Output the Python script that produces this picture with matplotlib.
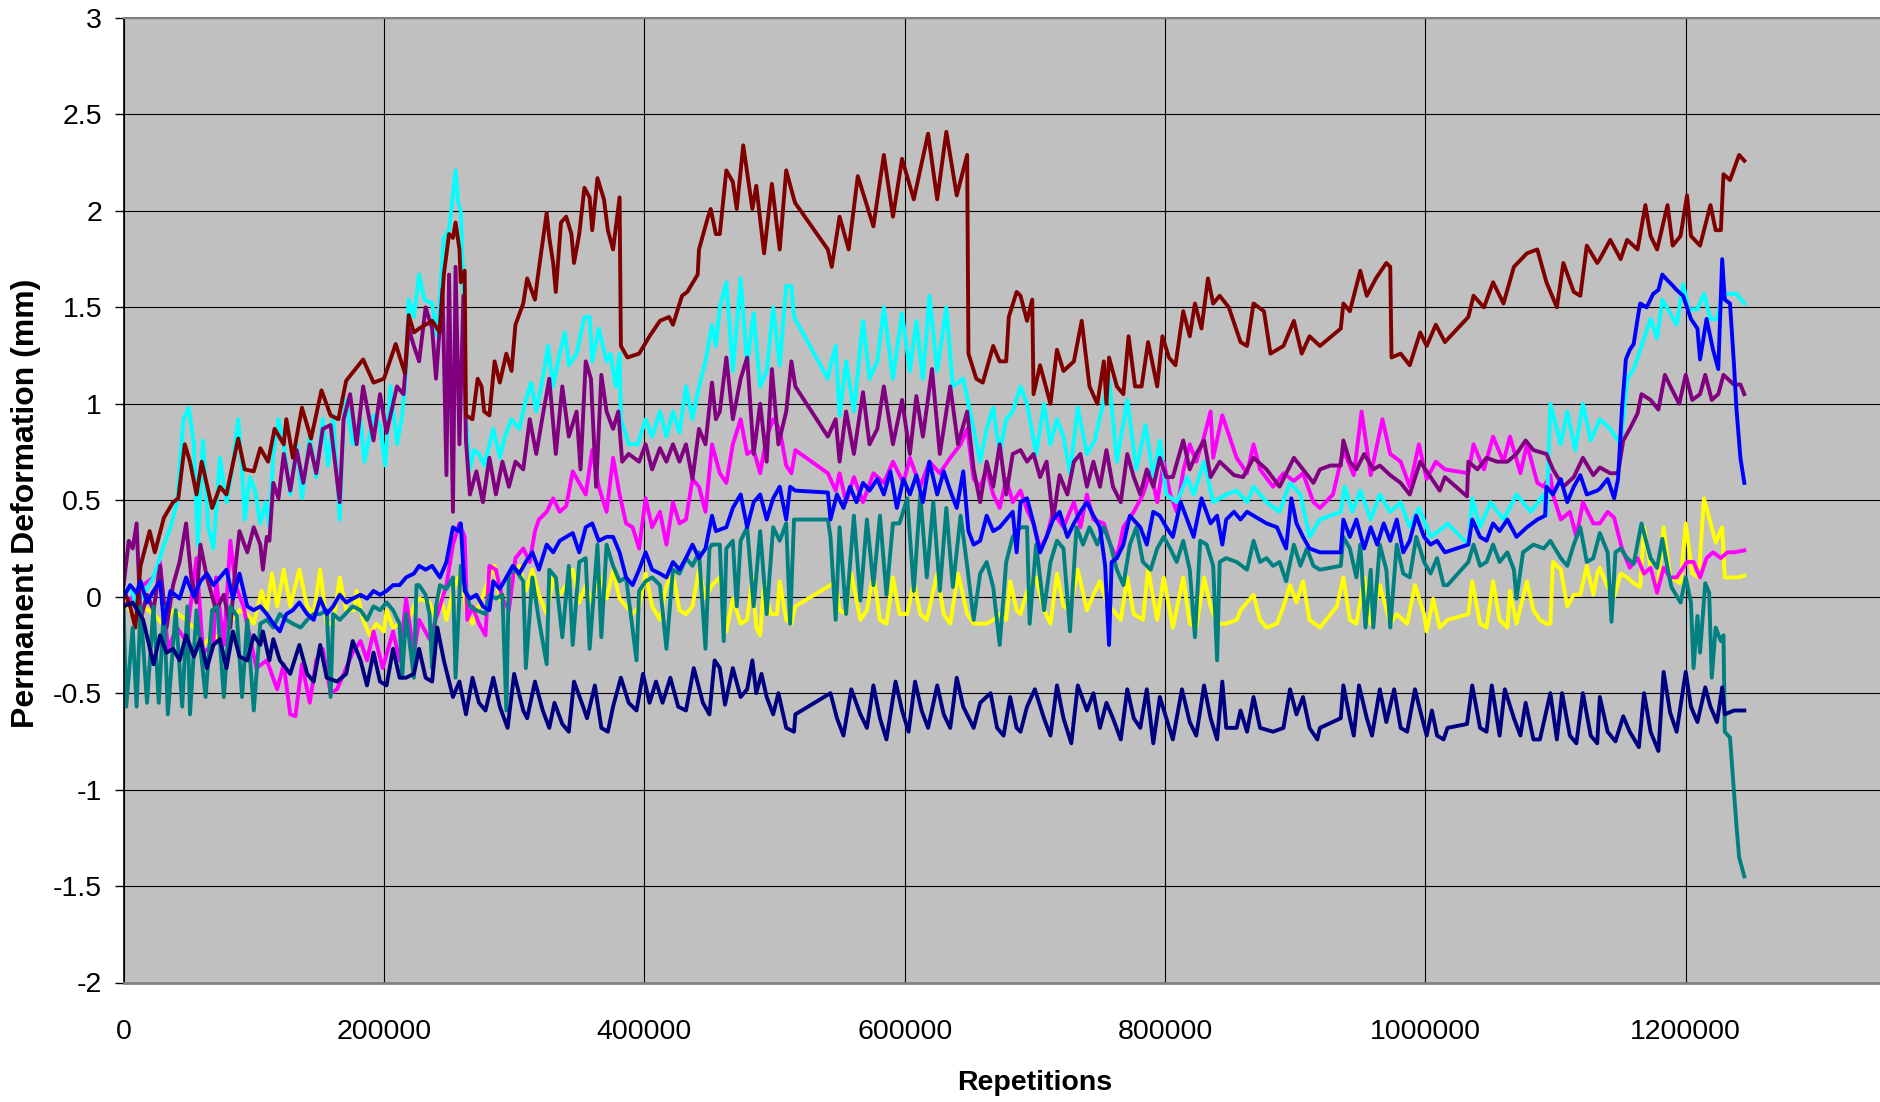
import numpy as np
import matplotlib
matplotlib.use('Agg')
import matplotlib.pyplot as plt

# (repetitions in thousands, permanent deformation in mm)
maroon = [
    (1, 0.02), (5, -0.05), (9, -0.16), (13, 0.16), (20, 0.34), (24, 0.23), (31, 0.41), (38, 0.49), (42, 0.51),
    (47, 0.79), (51, 0.70), (56, 0.53), (60, 0.70), (68, 0.46), (74, 0.57), (79, 0.53), (88, 0.82), (93, 0.66),
    (100, 0.65), (105, 0.77), (111, 0.70), (116, 0.87), (123, 0.79), (125, 0.92), (130, 0.72), (137, 0.98),
    (144, 0.82), (152, 1.07), (159, 0.94), (165, 0.92), (171, 1.12), (184, 1.23), (192, 1.11), (200, 1.13),
    (209, 1.31), (216, 1.16), (219, 1.46), (223, 1.37),
    (227, 1.39), (237, 1.43), (243, 1.37), (246, 1.67), (250, 1.88), (253, 1.86), (255, 1.94), (258, 1.80),
    (259, 1.63), (262, 1.69), (263, 0.94), (268, 0.92), (272, 1.13), (275, 1.09), (277, 0.96), (281, 0.94),
    (285, 1.22), (289, 1.11), (294, 1.26), (298, 1.17), (301, 1.41), (307, 1.52), (310, 1.65), (316, 1.54),
    (318, 1.65), (325, 1.99), (327, 1.86), (330, 1.73), (332, 1.58), (336, 1.94), (340, 1.97), (344, 1.88),
    (346, 1.73), (350, 1.88), (354, 2.12), (358, 2.07), (360, 1.90), (364, 2.17), (369, 2.06), (372, 1.90),
    (376, 1.80), (381, 2.07), (382, 1.30), (387, 1.24), (396, 1.26), (404, 1.35), (412, 1.43), (419, 1.45),
    (422, 1.41), (429, 1.56), (433, 1.58), (441, 1.67), (442, 1.80), (449, 1.97), (451, 2.01), (455, 1.88),
    (458, 1.88), (463, 2.21), (468, 2.15), (471, 2.01), (476, 2.34), (483, 2.01), (486, 2.13), (492, 1.78),
    (498, 2.14), (504, 1.80), (509, 2.21), (515, 2.06), (516, 2.04), (541, 1.80), (544, 1.71), (550, 1.97),
    (557, 1.80), (564, 2.18), (576, 1.92), (584, 2.29), (591, 1.97), (598, 2.27), (607, 2.06), (618, 2.40),
    (625, 2.06), (632, 2.41), (640, 2.08), (648, 2.29), (649, 1.26), (655, 1.13), (660, 1.11), (668, 1.30),
    (673, 1.22), (678, 1.22), (680, 1.45), (686, 1.58),
    (689, 1.56), (694, 1.43), (698, 1.54), (699, 1.05), (704, 1.20), (712, 1.00), (717, 1.28), (722, 1.17),
    (730, 1.22), (736, 1.43), (742, 1.09), (748, 1.00), (753, 1.22), (755, 1.00), (757, 1.24), (763, 1.09),
    (768, 1.05), (772, 1.35), (777, 1.09), (782, 1.09), (787, 1.32), (794, 1.09), (798, 1.35), (803, 1.24),
    (808, 1.20), (814, 1.48), (819, 1.35), (823, 1.52), (828, 1.39), (833, 1.65), (837, 1.52), (842, 1.56),
    (849, 1.50), (858, 1.32), (863, 1.30), (868, 1.52), (876, 1.48), (881, 1.26), (891, 1.30), (899, 1.43),
    (905, 1.26), (911, 1.35),
    (919, 1.30), (935, 1.39), (937, 1.52), (942, 1.48), (950, 1.69), (955, 1.56), (962, 1.65), (970, 1.73),
    (973, 1.71), (974, 1.24), (981, 1.26), (988, 1.20), (996, 1.37), (1001, 1.30), (1008, 1.41), (1015, 1.32),
    (1033, 1.45), (1037, 1.56), (1045, 1.50), (1052, 1.63), (1060, 1.52), (1068, 1.71), (1078, 1.78),
    (1086, 1.80), (1093, 1.63), (1101, 1.50), (1106, 1.73), (1114, 1.58), (1119, 1.56), (1124, 1.82),
    (1132, 1.73), (1134, 1.75), (1142, 1.85), (1150, 1.75), (1155, 1.85), (1163, 1.80), (1169, 2.03),
    (1173, 1.87), (1178, 1.80), (1186, 2.03), (1190, 1.82), (1196, 1.87), (1201, 2.08), (1204, 1.87),
    (1211, 1.82), (1219, 2.03), (1223, 1.90), (1227, 1.90), (1229, 2.19), (1234, 2.16), (1241, 2.29),
    (1245, 2.26)]

cyan = [
    (0, 0.00), (5, 0.06), (10, -0.05), (15, 0.01), (23, 0.10), (31, 0.27), (36, 0.36), (41, 0.49), (46, 0.92),
    (50, 0.98), (54, 0.79), (57, 0.27), (61, 0.81), (65, 0.36), (69, 0.25), (74, 0.72), (79, 0.49), (83, 0.64),
    (88, 0.92), (91, 0.66), (93, 0.40), (97, 0.62), (101, 0.55), (105, 0.38), (109, 0.49), (112, 0.36),
    (115, 0.74), (119, 0.92), (123, 0.79), (128, 0.53), (133, 0.79), (137, 0.51), (143, 0.83), (148, 0.62),
    (153, 0.92), (157, 0.68), (161, 0.94), (166, 0.40), (169, 0.92), (171, 1.02), (176, 0.79), (182, 0.92),
    (185, 0.70), (192, 0.94), (197, 0.89), (201, 0.68), (205, 1.09), (210, 0.79), (214, 0.94), (217, 1.17),
    (219, 1.54), (223, 1.45),
    (227, 1.67), (231, 1.54), (237, 1.52), (241, 1.35), (246, 1.86), (250, 1.90), (255, 2.21), (257, 2.04),
    (259, 2.00), (261, 1.60), (263, 0.92), (266, 0.66), (269, 0.76), (273, 0.74), (277, 0.68), (284, 0.87),
    (289, 0.72), (293, 0.83), (298, 0.92), (304, 0.87), (309, 1.02), (313, 1.11), (317, 0.96), (323, 1.17),
    (326, 1.30), (330, 1.09), (335, 1.26), (339, 1.37), (342, 1.20), (348, 1.26), (354, 1.45), (358, 1.45),
    (360, 1.22), (365, 1.39), (371, 1.22), (374, 1.26), (378, 1.09), (381, 1.26), (382, 0.92), (388, 0.79),
    (395, 0.79), (401, 0.92), (406, 0.83), (412, 0.96), (417, 0.83), (422, 0.96), (427, 0.85), (432, 1.09),
    (437, 0.92), (442, 1.09), (447, 1.22), (452, 1.41), (455, 1.30),
    (458, 1.50), (463, 1.63), (468, 1.17), (474, 1.65), (479, 1.20), (484, 1.47), (489, 1.09), (494, 1.17),
    (499, 1.50), (504, 1.20), (509, 1.61), (513, 1.61), (515, 1.45), (541, 1.13), (543, 1.20), (547, 1.30),
    (550, 0.94), (555, 1.22), (561, 0.96), (568, 1.43), (573, 1.13), (579, 1.22), (584, 1.50), (591, 1.13),
    (598, 1.47), (604, 1.17), (609, 1.43), (614, 1.13), (619, 1.56), (625, 1.17), (632, 1.50), (637, 1.09),
    (645, 1.13), (653, 0.87), (658, 0.70), (663, 0.87), (668, 0.98), (673, 0.74), (678, 0.92), (683, 0.96),
    (689, 1.09),
    (694, 1.00), (701, 0.74), (707, 1.00), (712, 0.79), (717, 0.92), (722, 0.83), (727, 0.64), (733, 0.98),
    (740, 0.74), (746, 0.81), (751, 0.96), (757, 1.13), (763, 0.70), (771, 1.02), (778, 0.66), (785, 0.89),
    (791, 0.62), (796, 0.81), (801, 0.53), (809, 0.49), (817, 0.62), (822, 0.53), (830, 0.70), (837, 0.49),
    (847, 0.53), (855, 0.55), (863, 0.49), (868, 0.57), (878, 0.49), (888, 0.44), (896, 0.59), (904, 0.53),
    (911, 0.31), (919, 0.40),
    (935, 0.44), (938, 0.57), (944, 0.44), (950, 0.55), (958, 0.40), (965, 0.53), (973, 0.44), (981, 0.49),
    (988, 0.36), (995, 0.46), (1004, 0.31), (1014, 0.36), (1017, 0.38), (1033, 0.27), (1036, 0.51),
    (1042, 0.36), (1050, 0.49), (1060, 0.40), (1070, 0.53), (1081, 0.44), (1091, 0.53), (1093, 0.42),
    (1096, 1.00), (1104, 0.79), (1109, 0.96), (1115, 0.76), (1121, 1.00), (1127, 0.81),
    (1134, 0.92), (1142, 0.87), (1150, 0.79), (1155, 1.13), (1160, 1.18), (1168, 1.34), (1173, 1.44),
    (1178, 1.34), (1182, 1.54), (1188, 1.47), (1193, 1.41), (1198, 1.62), (1202, 1.49), (1209, 1.49),
    (1214, 1.57), (1219, 1.44), (1224, 1.44), (1228, 1.57), (1232, 1.57), (1239, 1.57), (1245, 1.52)]

purple = [
    (0, 0.06), (4, 0.29), (7, 0.25), (10, 0.38), (13, -0.12), (18, 0.01), (23, -0.07), (28, 0.16), (33, -0.16),
    (38, 0.06), (43, 0.18), (48, 0.38), (52, 0.10), (56, -0.03), (59, 0.27), (64, 0.10), (71, -0.07),
    (77, 0.01), (82, -0.16), (86, 0.16), (89, 0.34), (95, 0.23), (100, 0.36), (105, 0.27), (107, 0.14),
    (110, 0.31), (112, 0.29), (115, 0.59), (119, 0.51), (123, 0.74), (128, 0.55), (133, 0.76), (138, 0.59),
    (143, 0.79), (148, 0.64), (153, 0.87), (159, 0.89), (166, 0.49), (169, 0.92), (174, 1.05), (179, 0.79),
    (184, 1.09), (192, 0.81), (197, 1.05), (202, 0.85), (210, 1.09), (215, 1.05), (219, 1.39), (223, 1.30),
    (227, 1.22), (232, 1.50), (237, 1.39), (240, 1.13), (243, 1.41), (245, 1.60), (248, 0.63), (250, 1.67),
    (253, 0.44), (255, 1.71), (258, 0.79), (261, 1.56), (263, 0.81), (266, 0.53), (271, 0.65), (276, 0.49),
    (281, 0.72), (286, 0.53), (291, 0.70), (296, 0.57), (301, 0.70), (307, 0.66), (312, 0.92), (317, 0.74),
    (322, 0.94), (327, 1.13), (332, 0.74), (337, 1.09), (342, 0.83), (348, 0.96), (351, 0.66), (355, 1.22),
    (359, 1.13), (363, 0.57), (367, 1.15), (371, 0.96), (376, 0.87), (380, 0.96), (383, 0.70), (388, 0.74),
    (396, 0.70), (401, 0.79), (406, 0.66), (412, 0.77), (417, 0.70), (422, 0.79), (427, 0.70), (432, 0.79),
    (437, 0.61), (442, 0.87), (447, 0.79), (452, 1.11), (455, 0.92),
    (458, 0.96), (463, 1.24), (468, 0.92), (474, 1.13), (479, 1.24), (484, 0.74), (489, 1.00), (494, 0.70),
    (498, 1.18), (503, 0.79), (509, 0.96), (513, 1.22), (516, 1.09), (541, 0.83), (547, 0.92), (550, 0.70),
    (555, 0.96), (561, 0.74), (568, 1.06), (573, 0.79), (579, 0.87), (584, 1.09), (591, 0.79), (598, 1.02),
    (604, 0.74), (609, 1.04), (614, 0.83), (621, 1.18), (627, 0.74), (635, 1.09), (641, 0.79), (648, 0.96),
    (653, 0.66), (658, 0.49), (663, 0.70), (668, 0.57), (673, 0.79), (678, 0.53), (683, 0.74), (689, 0.76),
    (694, 0.70), (699, 0.74), (704, 0.62), (709, 0.70), (714, 0.40), (719, 0.63), (725, 0.53), (730, 0.70),
    (735, 0.74), (740, 0.57), (745, 0.70), (750, 0.57), (755, 0.76), (760, 0.57), (766, 0.49), (771, 0.74),
    (776, 0.62), (781, 0.53), (786, 0.66), (791, 0.57), (796, 0.72), (801, 0.62), (806, 0.62), (814, 0.81),
    (819, 0.66), (824, 0.74), (830, 0.81), (835, 0.62), (842, 0.70), (853, 0.63), (860, 0.62), (868, 0.72),
    (878, 0.66), (888, 0.57), (899, 0.72), (906, 0.66), (914, 0.59), (919, 0.66),
    (927, 0.68), (935, 0.68), (937, 0.81), (942, 0.70), (947, 0.66), (953, 0.74), (960, 0.66), (965, 0.68),
    (973, 0.63), (981, 0.59), (988, 0.53), (996, 0.70), (1004, 0.62), (1011, 0.55), (1015, 0.62),
    (1032, 0.52), (1033, 0.70), (1040, 0.66), (1047, 0.72), (1055, 0.70), (1063, 0.70), (1070, 0.74),
    (1077, 0.81), (1083, 0.76), (1093, 0.74), (1098, 0.66), (1106, 0.57), (1114, 0.62), (1121, 0.72),
    (1129, 0.63), (1134, 0.67), (1142, 0.64), (1148, 0.64), (1152, 0.81), (1157, 0.87), (1163, 0.95),
    (1166, 1.05), (1173, 1.02), (1179, 0.97), (1184, 1.15), (1189, 1.08), (1195, 1.00), (1200, 1.15),
    (1205, 1.02), (1211, 1.05), (1215, 1.15), (1220, 1.02), (1225, 1.05), (1229, 1.15), (1237, 1.10),
    (1242, 1.10), (1245, 1.05)]

magenta = [
    (0, -0.05), (15, 0.06), (23, 0.10), (28, 0.18), (34, -0.27), (41, -0.16), (48, -0.23), (56, 0.20),
    (61, -0.29), (69, -0.25), (71, 0.10), (77, -0.25), (82, 0.29), (86, 0.06), (92, -0.05), (102, -0.37),
    (110, -0.33), (118, -0.48), (123, -0.35), (128, -0.61), (132, -0.62), (137, -0.35), (143, -0.55),
    (148, -0.33), (153, -0.27), (159, -0.50), (164, -0.48), (176, -0.29), (182, -0.23), (187, -0.33),
    (192, -0.18), (199, -0.37), (207, -0.18), (212, -0.33), (217, -0.01), (223, -0.30),
    (227, -0.12), (235, -0.22), (243, -0.05), (248, 0.06), (253, 0.27), (258, 0.38), (262, 0.31),
    (264, -0.12), (268, -0.05), (273, -0.14), (278, -0.20), (281, 0.16), (286, 0.14), (291, -0.01),
    (296, -0.07), (301, 0.20), (307, 0.25), (312, 0.18), (316, 0.34), (319, 0.40), (325, 0.44), (330, 0.51),
    (335, 0.44), (340, 0.47), (345, 0.65), (350, 0.59), (355, 0.53), (360, 0.76), (365, 0.57), (371, 0.44),
    (376, 0.72), (381, 0.53), (386, 0.38), (391, 0.36), (396, 0.25), (401, 0.51), (406, 0.36), (412, 0.44),
    (417, 0.27), (422, 0.49), (427, 0.38), (432, 0.40), (437, 0.61), (442, 0.57), (447, 0.44), (452, 0.79),
    (458, 0.64), (463, 0.59), (468, 0.79), (474, 0.92), (479, 0.74), (484, 0.76), (489, 0.64), (494, 0.83),
    (499, 0.92), (504, 0.87), (509, 0.68), (513, 0.64), (516, 0.76), (541, 0.64), (547, 0.55), (550, 0.64),
    (555, 0.49), (561, 0.62), (568, 0.49), (576, 0.64), (584, 0.59), (591, 0.70), (599, 0.59), (604, 0.72),
    (612, 0.57), (619, 0.70), (627, 0.64), (635, 0.72), (643, 0.79), (648, 0.87), (653, 0.61), (658, 0.57),
    (663, 0.66), (668, 0.53), (673, 0.46), (678, 0.61), (683, 0.49), (689, 0.55),
    (694, 0.45), (699, 0.38), (704, 0.25), (709, 0.31), (714, 0.44), (722, 0.36), (730, 0.49), (735, 0.36),
    (740, 0.53), (745, 0.40), (753, 0.38), (758, 0.27), (763, 0.20), (768, 0.36), (776, 0.44), (783, 0.53),
    (789, 0.65), (794, 0.49), (799, 0.70), (804, 0.53), (809, 0.44), (814, 0.65), (819, 0.79), (824, 0.70),
    (830, 0.83), (835, 0.96), (837, 0.72), (844, 0.94), (855, 0.72), (863, 0.64), (868, 0.79), (873, 0.66),
    (883, 0.57), (891, 0.64), (899, 0.60), (906, 0.64), (914, 0.49), (919, 0.46),
    (929, 0.53), (937, 0.76), (945, 0.63), (951, 0.96), (958, 0.63), (967, 0.92), (973, 0.74), (981, 0.70),
    (988, 0.57), (995, 0.79), (1001, 0.61), (1008, 0.70), (1015, 0.66), (1033, 0.64), (1037, 0.79),
    (1045, 0.66), (1052, 0.83), (1060, 0.70), (1065, 0.83), (1073, 0.64), (1078, 0.79), (1086, 0.59),
    (1091, 0.57), (1096, 0.63), (1098, 0.53), (1104, 0.40), (1111, 0.44), (1116, 0.31), (1121, 0.49),
    (1129, 0.38), (1134, 0.38), (1140, 0.44), (1145, 0.41), (1151, 0.25), (1157, 0.15), (1163, 0.20),
    (1168, 0.12), (1173, 0.15), (1178, 0.02), (1183, 0.15), (1188, 0.10), (1193, 0.10), (1201, 0.18),
    (1206, 0.18), (1211, 0.10), (1216, 0.20), (1221, 0.23), (1227, 0.20), (1232, 0.23), (1237, 0.23),
    (1245, 0.24)]

blue = [
    (0, 0.00), (5, 0.06), (10, 0.02), (13, 0.08), (18, -0.03), (23, 0.03), (28, 0.08), (31, -0.14), (36, 0.03),
    (43, -0.01), (48, 0.10), (54, 0.00), (59, 0.08), (64, 0.12), (69, 0.06), (74, 0.10), (79, 0.14),
    (84, -0.01), (89, 0.12), (95, -0.05), (100, -0.07), (105, -0.05), (110, -0.09), (115, -0.14),
    (120, -0.18), (125, -0.09), (130, -0.07), (135, -0.03), (141, -0.09), (146, -0.12), (151, -0.01),
    (156, -0.09), (161, -0.05), (166, 0.01), (171, -0.03), (176, -0.01), (182, 0.01), (187, -0.01),
    (192, 0.03), (197, 0.01), (202, 0.03), (207, 0.06), (212, 0.06), (217, 0.10), (223, 0.12),
    (227, 0.16), (232, 0.14), (237, 0.16), (243, 0.10), (248, 0.18), (253, 0.36), (257, 0.34), (259, 0.38),
    (262, 0.03), (266, -0.01), (271, 0.01), (276, -0.05), (281, -0.07), (284, 0.08), (289, 0.04), (294, 0.10),
    (299, 0.16), (304, 0.12), (309, 0.18), (314, 0.23), (319, 0.14), (325, 0.27), (330, 0.23), (335, 0.29),
    (340, 0.31), (345, 0.33), (350, 0.23), (355, 0.36), (360, 0.38), (365, 0.29), (371, 0.31), (376, 0.31),
    (381, 0.23), (386, 0.10), (391, 0.06), (396, 0.14), (401, 0.23), (406, 0.14), (412, 0.12), (417, 0.10),
    (422, 0.18), (427, 0.14), (432, 0.20), (437, 0.27), (442, 0.20), (447, 0.25), (452, 0.42), (455, 0.34),
    (463, 0.36), (468, 0.46), (474, 0.53), (479, 0.36), (484, 0.49), (489, 0.53), (494, 0.40), (499, 0.51),
    (504, 0.57), (509, 0.40), (512, 0.57), (516, 0.55), (541, 0.54), (543, 0.40), (548, 0.53), (553, 0.46),
    (558, 0.57), (563, 0.49), (568, 0.59), (573, 0.55), (579, 0.61), (584, 0.53), (589, 0.65), (594, 0.46),
    (599, 0.61), (604, 0.53), (609, 0.63), (614, 0.49), (619, 0.70), (625, 0.53), (630, 0.65), (635, 0.55),
    (640, 0.46), (645, 0.65), (649, 0.34), (653, 0.27), (658, 0.29), (663, 0.42), (668, 0.34), (673, 0.36),
    (678, 0.40), (683, 0.44), (686, 0.23), (689, 0.49),
    (694, 0.51), (699, 0.38), (704, 0.23), (709, 0.31), (714, 0.40), (719, 0.44), (725, 0.31), (730, 0.38),
    (735, 0.44), (740, 0.49), (745, 0.42), (750, 0.36), (754, 0.16), (757, -0.25), (759, 0.18), (763, 0.20),
    (768, 0.27), (773, 0.42), (781, 0.36), (786, 0.27), (791, 0.44), (796, 0.42), (801, 0.36), (806, 0.31),
    (812, 0.49), (817, 0.40), (822, 0.31), (828, 0.51), (835, 0.38), (840, 0.42), (844, 0.27), (847, 0.40),
    (853, 0.44), (858, 0.40), (863, 0.44), (868, 0.42), (873, 0.40), (878, 0.38), (886, 0.36), (893, 0.25),
    (897, 0.51), (901, 0.38), (906, 0.31), (911, 0.25), (919, 0.23),
    (935, 0.23), (937, 0.40), (942, 0.31), (947, 0.40), (953, 0.25), (958, 0.36), (963, 0.27), (968, 0.38),
    (973, 0.29), (978, 0.40), (983, 0.23), (988, 0.29), (993, 0.42), (999, 0.31), (1004, 0.27), (1009, 0.29),
    (1015, 0.23), (1033, 0.27), (1036, 0.40), (1042, 0.31), (1047, 0.29), (1052, 0.38), (1057, 0.34),
    (1063, 0.40), (1070, 0.31), (1078, 0.36), (1086, 0.40), (1092, 0.42), (1093, 0.57), (1098, 0.53),
    (1104, 0.61), (1109, 0.49), (1114, 0.57), (1119, 0.63), (1124, 0.53), (1132, 0.55),
    (1134, 0.56), (1140, 0.61), (1145, 0.51), (1148, 0.61), (1151, 0.97), (1154, 1.23), (1157, 1.28),
    (1160, 1.31), (1163, 1.44), (1165, 1.52), (1170, 1.50), (1175, 1.57), (1179, 1.59), (1182, 1.67),
    (1186, 1.64), (1189, 1.62), (1193, 1.59), (1198, 1.56), (1204, 1.44), (1209, 1.39), (1211, 1.23),
    (1216, 1.44), (1221, 1.28), (1225, 1.18), (1228, 1.75), (1230, 1.54), (1234, 1.52), (1237, 1.21),
    (1239, 0.97), (1242, 0.72), (1245, 0.59)]

yellow = [
    (0, 0.00), (7, -0.10), (15, -0.05), (23, -0.09), (31, -0.15), (38, -0.07), (46, -0.11), (54, -0.16),
    (61, -0.25), (69, -0.20), (74, -0.22), (82, -0.13), (89, -0.07), (95, -0.09), (100, -0.14), (106, 0.03),
    (110, -0.07), (114, 0.12), (118, -0.05), (123, 0.14), (128, -0.05), (135, 0.14), (141, -0.05),
    (146, -0.09), (151, 0.14), (156, -0.14), (161, -0.14), (166, 0.10), (171, -0.07), (177, -0.07),
    (179, 0.03), (184, -0.12), (189, -0.20), (194, -0.14), (200, -0.18), (202, -0.07), (207, -0.16),
    (212, -0.14), (217, -0.16), (223, -0.05),
    (227, -0.01), (235, -0.03), (240, -0.12), (243, 0.01), (248, -0.12), (253, 0.03), (257, 0.10), (261, 0.06),
    (263, -0.07), (268, -0.14), (273, -0.05), (281, 0.10), (285, 0.16), (289, -0.01), (294, -0.05),
    (299, 0.10), (304, 0.16), (309, 0.03), (314, 0.14), (319, 0.01), (325, -0.09), (330, 0.10), (335, 0.01),
    (340, 0.06), (345, 0.14), (350, -0.03), (355, 0.06), (360, -0.03), (365, 0.12), (371, -0.01),
    (376, 0.14), (381, -0.01), (386, -0.05), (391, -0.09), (396, -0.05), (401, 0.12), (406, -0.05),
    (412, -0.12), (417, 0.06), (422, 0.12), (427, -0.07), (432, -0.09), (437, -0.05), (442, 0.14),
    (447, -0.01), (452, 0.06), (458, 0.10),
    (463, -0.18), (468, -0.01), (474, -0.14), (479, -0.12), (483, 0.10), (486, -0.16), (489, -0.20),
    (492, 0.08), (497, -0.09), (502, -0.09), (504, 0.08), (509, -0.12), (513, -0.14), (516, -0.05),
    (543, 0.06), (547, 0.08), (550, -0.07), (555, -0.09), (559, 0.12), (566, -0.12), (571, -0.07),
    (576, 0.12), (581, -0.12), (586, -0.14), (591, 0.10), (596, -0.09), (602, -0.09), (607, 0.08),
    (612, -0.09), (617, -0.12), (625, 0.12), (630, -0.09), (635, -0.14), (641, 0.12), (648, -0.09),
    (653, -0.14), (658, -0.14), (663, -0.14), (668, -0.12), (673, -0.09), (678, -0.12), (681, 0.08),
    (686, -0.07), (689, -0.09),
    (694, 0.03), (701, 0.10), (707, -0.07), (712, -0.14), (717, 0.12), (722, -0.05), (727, -0.07),
    (733, 0.14), (740, -0.07), (745, 0.01), (750, 0.08), (755, -0.03), (760, -0.07), (766, -0.12),
    (771, 0.10), (776, -0.09), (783, -0.12), (787, 0.14), (794, -0.12), (799, 0.10), (806, -0.16),
    (814, 0.10), (819, -0.14), (824, -0.16), (830, 0.10), (835, -0.05), (840, -0.14), (847, -0.14),
    (855, -0.12), (858, -0.07), (868, 0.01), (873, -0.12), (878, -0.16), (886, -0.14), (891, -0.05),
    (896, 0.06), (901, -0.03), (906, 0.08), (911, -0.12), (919, -0.16),
    (932, -0.05), (937, 0.10), (942, -0.12), (947, -0.14), (953, 0.10), (958, -0.14), (965, 0.06),
    (973, -0.14), (978, -0.09), (986, -0.14), (992, 0.06), (999, -0.09), (1001, -0.18), (1006, -0.01),
    (1011, -0.16), (1017, -0.12), (1033, -0.09), (1036, 0.08), (1042, -0.14), (1047, -0.16), (1052, 0.08),
    (1057, -0.12), (1063, -0.16), (1065, 0.03), (1070, -0.14), (1078, 0.08), (1083, -0.07), (1088, -0.12),
    (1093, -0.14), (1096, -0.14), (1098, 0.18), (1104, 0.14), (1109, -0.05), (1114, 0.01), (1119, 0.01),
    (1124, 0.16), (1129, 0.01), (1132, 0.12),
    (1134, 0.15), (1140, 0.05), (1145, 0.00), (1150, 0.12), (1155, 0.10), (1160, 0.07), (1165, 0.05),
    (1168, 0.36), (1173, 0.15), (1178, 0.02), (1183, 0.36), (1188, 0.10), (1196, 0.07), (1200, 0.38),
    (1205, 0.12), (1210, 0.10), (1214, 0.51), (1218, 0.41), (1223, 0.28), (1228, 0.36), (1230, 0.10),
    (1237, 0.10), (1241, 0.10), (1245, 0.11)]

teal = [
    (0, -0.05), (2, -0.57), (7, -0.16), (10, -0.57), (13, -0.05), (18, -0.55), (23, -0.05), (27, -0.55),
    (31, -0.05), (34, -0.61), (40, -0.07), (45, -0.57), (49, -0.05), (51, -0.61), (56, -0.07), (63, -0.52),
    (68, -0.07), (72, -0.05), (77, -0.52), (82, -0.05), (87, -0.10), (91, -0.52), (95, -0.12), (100, -0.59),
    (105, -0.14), (110, -0.12), (115, -0.16), (120, -0.09), (125, -0.12), (130, -0.14), (136, -0.16),
    (141, -0.12), (146, -0.09), (151, -0.09), (156, -0.07), (159, -0.52), (161, -0.09), (166, -0.12),
    (176, -0.05), (182, -0.07), (187, -0.12), (192, -0.05), (197, -0.07), (202, -0.03), (207, -0.07),
    (212, -0.14), (214, -0.42), (217, -0.09), (223, -0.42), (225, 0.06),
    (227, 0.06), (232, 0.01), (235, -0.09), (237, -0.37), (240, -0.05), (243, 0.06), (248, 0.04), (253, 0.10),
    (255, -0.42), (259, 0.16), (262, 0.06), (266, -0.05), (271, -0.07), (278, -0.09), (281, 0.01),
    (286, -0.01), (291, 0.01), (294, -0.59), (296, 0.12), (301, 0.14), (307, 0.08), (309, -0.37), (314, 0.10),
    (319, -0.12), (325, -0.35), (327, 0.14), (332, 0.10), (337, -0.21), (342, 0.16), (345, -0.25),
    (350, 0.18), (355, 0.20), (358, -0.27), (364, 0.27), (367, -0.21), (371, 0.27), (376, 0.16), (381, 0.08),
    (386, 0.10), (394, -0.33), (396, 0.03), (401, 0.08), (406, 0.10), (412, 0.06), (417, -0.27), (422, 0.14),
    (427, 0.12), (432, 0.20), (437, 0.16), (442, 0.23), (447, -0.27), (450, 0.25), (452, 0.27), (458, 0.27),
    (461, -0.23), (463, 0.25), (468, 0.29), (471, -0.05), (474, 0.29), (479, 0.36), (484, -0.05), (489, 0.34),
    (494, -0.09), (499, 0.36), (504, 0.29), (509, 0.38), (512, -0.14), (515, 0.40), (541, 0.40), (543, 0.31),
    (547, -0.12), (550, 0.36), (555, -0.09), (561, 0.42), (566, -0.02), (571, 0.40), (576, 0.06), (581, 0.42),
    (586, 0.01), (591, 0.38), (596, 0.38), (602, 0.51), (607, 0.03), (612, 0.53), (617, 0.10), (622, 0.49),
    (627, 0.03), (632, 0.46), (637, 0.05), (643, 0.42), (648, 0.16), (653, -0.12), (658, 0.12), (663, 0.18),
    (668, 0.05), (673, -0.25), (678, 0.18), (683, 0.31), (689, 0.36),
    (694, 0.36), (696, -0.14), (701, 0.27), (707, -0.07), (712, 0.18), (717, 0.29), (722, 0.25), (727, -0.18),
    (732, 0.36), (737, 0.27), (742, 0.36), (748, 0.27), (753, 0.36), (758, 0.27), (763, 0.14), (768, 0.06),
    (773, 0.27), (778, 0.36), (783, 0.18), (789, 0.14), (794, 0.25), (799, 0.31), (804, 0.25), (809, 0.18),
    (814, 0.29), (819, 0.14), (823, -0.21), (827, 0.29), (832, 0.27), (837, 0.16), (840, -0.33), (842, 0.18),
    (847, 0.20), (855, 0.18), (863, 0.14), (868, 0.29), (873, 0.18), (878, 0.20), (883, 0.16), (888, 0.18),
    (893, 0.08), (899, 0.27), (904, 0.16), (909, 0.25), (914, 0.16), (919, 0.14),
    (935, 0.16), (937, 0.31), (942, 0.25), (947, 0.10), (950, 0.27), (954, -0.16), (958, 0.14), (960, -0.16),
    (965, 0.27), (970, 0.14), (973, -0.16), (978, 0.27), (983, 0.12), (988, 0.10), (993, 0.31), (999, 0.18),
    (1004, 0.12), (1009, 0.20), (1014, 0.06), (1017, 0.06), (1033, 0.18), (1037, 0.27), (1042, 0.16),
    (1047, 0.18), (1052, 0.27), (1057, 0.18), (1063, 0.23), (1068, 0.14), (1070, -0.01), (1075, 0.23),
    (1083, 0.27), (1091, 0.25), (1096, 0.29), (1104, 0.20), (1109, 0.16), (1114, 0.27), (1119, 0.36),
    (1124, 0.18), (1129, 0.20),
    (1134, 0.33), (1140, 0.23), (1143, -0.13), (1146, 0.23), (1150, 0.25), (1155, 0.20), (1160, 0.17),
    (1166, 0.38), (1173, 0.20), (1178, 0.15), (1182, 0.30), (1186, 0.15), (1189, 0.05), (1196, -0.03),
    (1200, 0.10), (1204, -0.03), (1206, -0.37), (1209, -0.10), (1211, -0.29), (1215, 0.07), (1218, 0.02),
    (1220, -0.42), (1223, -0.16), (1227, -0.23), (1229, -0.20), (1230, -0.70), (1234, -0.73), (1237, -1.01),
    (1239, -1.19), (1241, -1.35), (1245, -1.45)]

navy = [
    (0, -0.05), (7, -0.03), (15, -0.12), (23, -0.35), (28, -0.20), (33, -0.29), (38, -0.27), (43, -0.33),
    (48, -0.20), (54, -0.31), (59, -0.22), (64, -0.37), (69, -0.25), (74, -0.22), (79, -0.37), (84, -0.18),
    (89, -0.31), (95, -0.33), (100, -0.20), (105, -0.25), (107, -0.18), (112, -0.33), (115, -0.22),
    (120, -0.33), (128, -0.40), (135, -0.25), (141, -0.40), (146, -0.44), (151, -0.25), (156, -0.42),
    (164, -0.44), (171, -0.40), (176, -0.23), (182, -0.33), (187, -0.46), (192, -0.29), (197, -0.44),
    (202, -0.46), (207, -0.27), (212, -0.42), (217, -0.42), (223, -0.40),
    (227, -0.27), (232, -0.42), (237, -0.44), (241, -0.16), (246, -0.33), (253, -0.52), (258, -0.44),
    (263, -0.61), (268, -0.42), (273, -0.55), (278, -0.59), (284, -0.42), (289, -0.57), (295, -0.68),
    (300, -0.40), (307, -0.59), (310, -0.63), (316, -0.44), (322, -0.59), (327, -0.68), (331, -0.55),
    (337, -0.66), (342, -0.70), (346, -0.44), (353, -0.57), (356, -0.63), (362, -0.46), (367, -0.68),
    (372, -0.70), (376, -0.57), (382, -0.42), (388, -0.55), (394, -0.59), (399, -0.40), (404, -0.55),
    (409, -0.44), (414, -0.55), (420, -0.42), (426, -0.57), (432, -0.59), (438, -0.37), (445, -0.55),
    (450, -0.61), (454, -0.33), (458, -0.37),
    (462, -0.56), (468, -0.37), (474, -0.52), (479, -0.48), (483, -0.33), (486, -0.50), (490, -0.40),
    (494, -0.52), (499, -0.61), (503, -0.50), (509, -0.68), (515, -0.70), (516, -0.61), (543, -0.50),
    (548, -0.63), (553, -0.72), (559, -0.48), (566, -0.61), (571, -0.68), (576, -0.46), (581, -0.63),
    (586, -0.74), (593, -0.44), (598, -0.59), (603, -0.70), (608, -0.44), (613, -0.59), (618, -0.68),
    (625, -0.46), (630, -0.61), (635, -0.68), (640, -0.42), (645, -0.57), (653, -0.68), (658, -0.55),
    (666, -0.50), (671, -0.68), (676, -0.72), (681, -0.52), (686, -0.68), (689, -0.70),
    (694, -0.57), (700, -0.48), (707, -0.63), (712, -0.72), (717, -0.46), (722, -0.63), (728, -0.76),
    (733, -0.46), (740, -0.59), (745, -0.50), (750, -0.68), (755, -0.55), (760, -0.63), (766, -0.74),
    (771, -0.48), (776, -0.63), (781, -0.68), (786, -0.48), (791, -0.76), (796, -0.52), (801, -0.63),
    (806, -0.74), (813, -0.48), (819, -0.65), (824, -0.72), (830, -0.46), (835, -0.63), (840, -0.74),
    (844, -0.44), (847, -0.68), (855, -0.68), (858, -0.59), (863, -0.70), (868, -0.52), (873, -0.68),
    (883, -0.70), (891, -0.68), (896, -0.48), (901, -0.61), (906, -0.52), (911, -0.68), (917, -0.74),
    (919, -0.68),
    (935, -0.63), (937, -0.46), (942, -0.63), (945, -0.72), (949, -0.46), (955, -0.63), (959, -0.72),
    (965, -0.48), (970, -0.65), (976, -0.48), (981, -0.68), (986, -0.70), (992, -0.48), (996, -0.59),
    (1001, -0.72), (1005, -0.59), (1009, -0.72), (1014, -0.74), (1017, -0.68), (1032, -0.66), (1036, -0.46),
    (1042, -0.68), (1047, -0.70), (1051, -0.46), (1057, -0.72), (1061, -0.48), (1068, -0.63), (1073, -0.72),
    (1077, -0.55), (1083, -0.74), (1088, -0.74), (1096, -0.50), (1101, -0.74), (1105, -0.50), (1111, -0.72),
    (1116, -0.76), (1121, -0.50), (1127, -0.72), (1132, -0.76),
    (1134, -0.52), (1140, -0.70), (1146, -0.75), (1152, -0.62), (1157, -0.70), (1164, -0.78), (1168, -0.50),
    (1173, -0.70), (1179, -0.80), (1183, -0.39), (1188, -0.60), (1193, -0.70), (1200, -0.39), (1204, -0.57),
    (1209, -0.65), (1215, -0.47), (1219, -0.57), (1224, -0.65), (1228, -0.47), (1230, -0.61), (1237, -0.59),
    (1245, -0.59)]

x_ticks = [0, 200000, 400000, 600000, 800000, 1000000, 1200000]
y_ticks = [-2, -1.5, -1, -0.5, 0, 0.5, 1, 1.5, 2, 2.5, 3]

# drawing order: later series sit on top
series = [
    (yellow, '#FFFF00'),
    (magenta, '#FF00FF'),
    (cyan, '#00FFFF'),
    (purple, '#800080'),
    (maroon, '#800000'),
    (teal, '#008080'),
    (blue, '#0000FF'),
    (navy, '#000080'),
]

plt.rcParams['font.family'] = ['Liberation Sans', 'DejaVu Sans']

fig = plt.figure(figsize=(18.81, 11.02), dpi=100)
fig.patch.set_facecolor('white')
ax = fig.add_axes([123.6 / 1881, 1 - 982.5 / 1102, 1 - 123.6 / 1881, (982.5 - 18) / 1102])
ax.set_facecolor('#C0C0C0')

for data, color in series:
    kreps, vals = zip(*data)
    ax.plot(np.array(kreps) * 1000, vals, color=color, lw=2.8, solid_joinstyle='round')

ax.set_xlim(0, 1350000)
ax.set_ylim(-2, 3)
ax.set_xticks(x_ticks)
ax.set_xticklabels([str(v) for v in x_ticks])
ax.set_yticks(y_ticks)
ax.set_yticklabels(['%g' % v for v in y_ticks])

ax.grid(True, color='black', linewidth=0.8)
ax.set_axisbelow(True)

ax.tick_params(axis='x', length=0, pad=26, labelsize=20.5)
ax.tick_params(axis='y', length=6.5, width=1, pad=9, labelsize=20.5, color='black')

ax.spines['right'].set_visible(False)
ax.spines['left'].set_color('black')
ax.spines['left'].set_linewidth(1.2)
ax.spines['bottom'].set_color('#808080')
ax.spines['bottom'].set_linewidth(2)
ax.spines['top'].set_color('#808080')
ax.spines['top'].set_linewidth(1.5)

fig.text(1035 / 1881, 1 - 1083 / 1102, 'Repetitions', ha='center', va='center',
         fontsize=20.5, fontweight='bold')
fig.text(26 / 1881, 1 - 503 / 1102, 'Permanent Deformation (mm)', ha='center', va='center',
         rotation=90, fontsize=23, fontweight='bold')

plt.savefig('out.png', dpi=100, facecolor='white')
plt.close()
